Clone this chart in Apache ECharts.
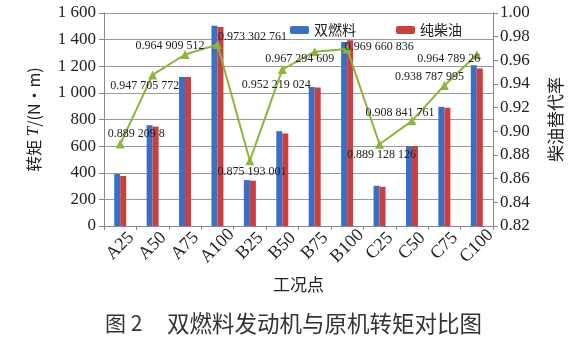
<!DOCTYPE html>
<html>
<head>
<meta charset="utf-8">
<script src="https://cdn.jsdelivr.net/npm/echarts@6/dist/echarts.min.js"></script>
<style>
  html, body { margin: 0; padding: 0; background: #fff; }
  #chart { width: 585px; height: 342px; }
</style>
</head>
<body>
<div id="chart"></div>
<script>
// Operating points
const categories = ['A25', 'A50', 'A75', 'A100', 'B25', 'B50', 'B75', 'B100', 'C25', 'C50', 'C75', 'C100'];
// Torque, N·m
const dualFuel = [391, 757, 1120, 1505, 345, 712, 1045, 1382, 302, 600, 895, 1207];
const pureDiesel = [376, 747, 1120, 1495, 340, 695, 1040, 1395, 295, 600, 888, 1183];
// Diesel substitution rate
const substitution = [0.8892098, 0.947705772, 0.964909512, 0.973302761, 0.875193001, 0.952219024,
  0.967294609, 0.969660836, 0.889128126, 0.908841761, 0.938787995, 0.96478926];
// Axis ticks
const torqueTicks = { min: 0, max: 1600, step: 200 };
const rateTicks = { min: 0.82, max: 1.00, step: 0.02 };

// Where each rate label sits relative to its marker
const labelShift = [[16, -10], [-8, 11], [-15, -9], [35, -8], [2, 11], [-6, 15],
  [-15, 7], [32, -2], [2, 11], [-12, -8], [-15, -9], [-28, 4]];

const serif = '"Liberation Serif", "DejaVu Serif", serif';
const cjk = '"Noto Sans CJK SC", sans-serif';

function groupThousands(v) {
  const s = String(v);
  return s.length > 3 ? s.slice(0, s.length - 3) + ' ' + s.slice(s.length - 3) : s;
}
function groupDecimals(v) {
  const s = String(v);
  const [ip, fp] = s.split('.');
  const parts = fp.match(/.{1,3}/g);
  return ip + '.' + parts.join(' ');
}

const chart = echarts.init(document.getElementById('chart'));
chart.setOption({
  animation: false,
  backgroundColor: '#fff',
  grid: { left: 104, right: 92, top: 13, bottom: 116 },
  legend: {
    left: 285, top: 18,
    itemWidth: 19, itemHeight: 8, itemGap: 40,
    textStyle: { fontFamily: cjk, fontSize: 14, color: '#222' },
    data: ['双燃料', '纯柴油']
  },
  xAxis: {
    type: 'category',
    data: categories,
    boundaryGap: true,
    axisLine: { lineStyle: { color: '#888' } },
    axisTick: { show: true, length: 4, lineStyle: { color: '#888' } },
    axisLabel: {
      rotate: 45, align: 'center', verticalAlign: 'middle',
      fontFamily: serif, fontSize: 18, color: '#222', margin: 20, interval: 0
    },
    name: '工况点',
    nameLocation: 'middle',
    nameGap: 50,
    nameTextStyle: { fontFamily: cjk, fontSize: 17, color: '#222' }
  },
  yAxis: [
    {
      type: 'value',
      min: torqueTicks.min, max: torqueTicks.max, interval: torqueTicks.step,
      axisLine: { show: true, lineStyle: { color: '#888' } },
      axisTick: { show: true, length: 5, lineStyle: { color: '#888' } },
      splitLine: { lineStyle: { color: '#9a9a9a' } },
      axisLabel: { fontFamily: serif, fontSize: 17, color: '#222', margin: 8, formatter: v => groupThousands(v) },
      name: '{a|转矩 }{i|T}{a|/(N·m)}',
      nameLocation: 'middle',
      nameGap: 62,
      nameTextStyle: {
        rich: {
          a: { fontFamily: cjk, fontSize: 16, color: '#222' },
          i: { fontFamily: serif, fontSize: 17, fontStyle: 'italic', color: '#222' }
        }
      }
    },
    {
      type: 'value',
      position: 'right',
      min: rateTicks.min, max: rateTicks.max, interval: rateTicks.step,
      axisLine: { show: true, lineStyle: { color: '#888' } },
      axisTick: { show: true, length: 5, lineStyle: { color: '#888' } },
      splitLine: { show: false },
      axisLabel: { fontFamily: serif, fontSize: 17, color: '#222', margin: 7, formatter: v => v.toFixed(2) },
      name: '柴油替代率',
      nameLocation: 'middle',
      nameGap: 54,
      nameTextStyle: { fontFamily: cjk, fontSize: 17, color: '#222' }
    }
  ],
  series: [
    {
      name: '双燃料', type: 'bar', yAxisIndex: 0,
      data: dualFuel, barWidth: 6, barGap: '0%',
      itemStyle: { color: '#3b6fc3' }
    },
    {
      name: '纯柴油', type: 'bar', yAxisIndex: 0,
      data: pureDiesel, barWidth: 6, barGap: '0%',
      itemStyle: { color: '#c8403f' }
    },
    {
      name: '替代率', type: 'line', yAxisIndex: 1,
      data: substitution.map((v, i) => ({
        value: v,
        label: { offset: labelShift[i] }
      })),
      symbol: 'triangle', symbolSize: 9,
      lineStyle: { color: '#8db43c', width: 2 },
      itemStyle: { color: '#8db43c' },
      z: 5,
      label: {
        show: true, position: 'inside',
        fontFamily: serif, fontSize: 12, color: '#222',
        formatter: p => groupDecimals(p.value)
      }
    }
  ],
  graphic: [
    {
      type: 'text', left: 105, top: 313,
      style: {
        text: '图 2',
        font: '21px "Noto Sans CJK SC", sans-serif',
        fill: '#333'
      }
    },
    {
      type: 'text', left: 167, top: 312,
      style: {
        text: '双燃料发动机与原机转矩对比图',
        font: '22.5px "Noto Sans CJK SC", sans-serif',
        fill: '#333'
      }
    }
  ]
});
</script>
</body>
</html>
